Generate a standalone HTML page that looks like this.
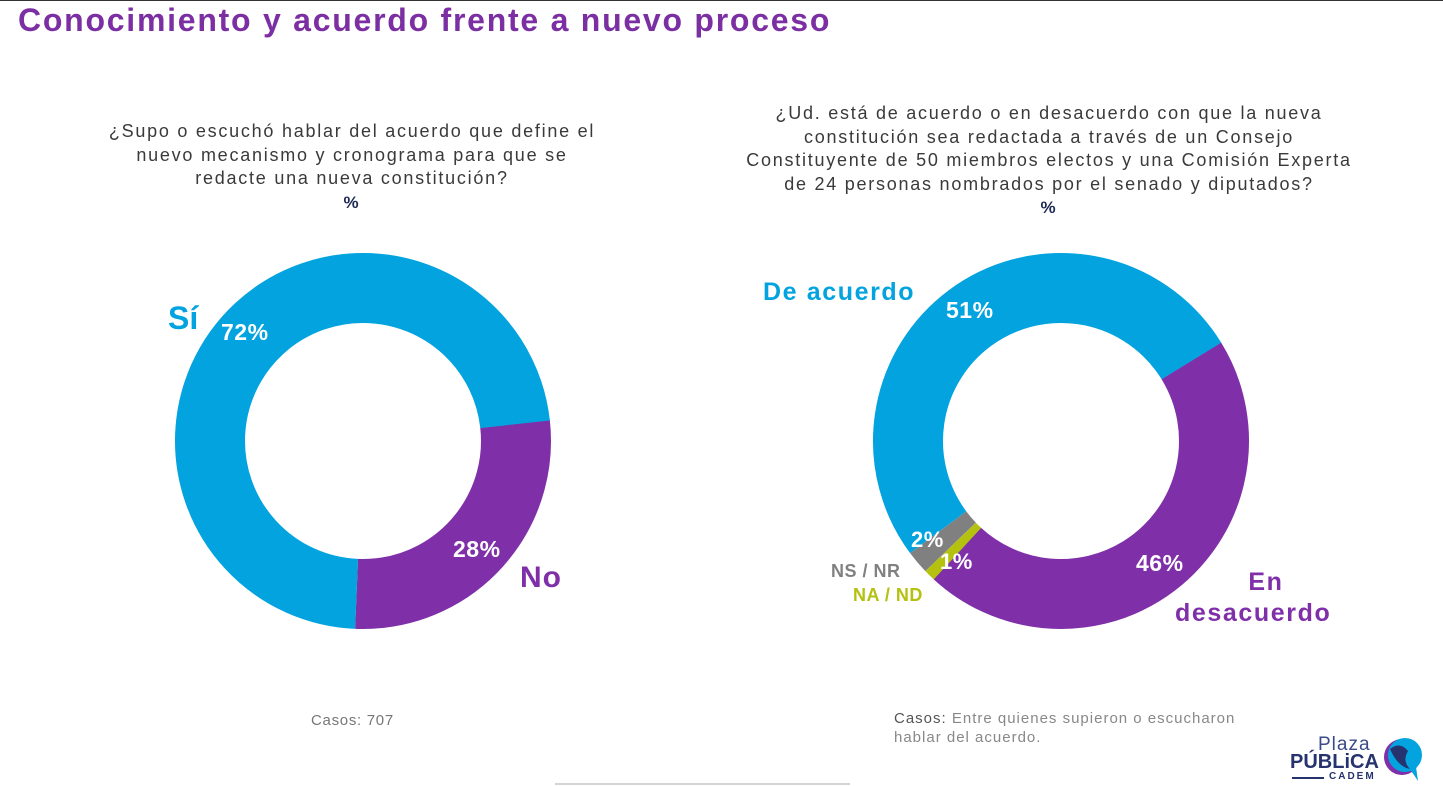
<!DOCTYPE html>
<html><head><meta charset="utf-8"><style>
body{margin:0;width:1443px;height:786px;background:#fff;position:relative;overflow:hidden;font-family:"Liberation Sans",sans-serif}
.t{position:absolute;white-space:nowrap}
.q{color:#3a3a3a;font-size:18px;text-align:center;line-height:23.5px;letter-spacing:1.75px}
.p{font-weight:bold;color:#fff;font-size:23px;letter-spacing:0.5px}
</style></head><body>
<div style="position:absolute;left:0;top:0;width:1443px;height:1px;background:#333"></div>
<div class="t" style="left:18px;top:2px;font-size:32px;font-weight:bold;color:#7b2fa3;letter-spacing:1.75px">Conocimiento y acuerdo frente a nuevo proceso</div>
<div class="t q" style="left:352px;top:120px;transform:translateX(-50%)">¿Supo o escuchó hablar del acuerdo que define el<br>nuevo mecanismo y cronograma para que se<br>redacte una nueva constitución?<br><b style="color:#1f2a55;font-size:17px">%</b></div>
<div class="t q" style="left:1049px;top:102px;transform:translateX(-50%)">¿Ud. está de acuerdo o en desacuerdo con que la nueva<br>constitución sea redactada a través de un Consejo<br>Constituyente de 50 miembros electos y una Comisión Experta<br>de 24 personas nombrados por el senado y diputados?<br><b style="color:#1f2a55;font-size:17px">%</b></div>
<svg style="position:absolute;left:0;top:0" width="1443" height="786">
<g transform="translate(363,441)" fill="none" stroke-width="70">
<circle r="153" stroke="#7f2fa8" stroke-dasharray="263.8 1000" transform="rotate(-6.4)"/>
<circle r="153" stroke="#02a3df" stroke-dasharray="697.5 1000" transform="rotate(92.4)"/>
</g>
<g transform="translate(1061,441)" fill="none" stroke-width="70">
<circle r="153" stroke="#7f2fa8" stroke-dasharray="438.5 1000" transform="rotate(-31.6)"/>
<circle r="153" stroke="#02a3df" stroke-dasharray="494 1000" transform="rotate(143.4)"/>
<circle r="153" stroke="#b4c10f" stroke-dasharray="9.6 1000" transform="rotate(132.6)"/>
<circle r="153" stroke="#808080" stroke-dasharray="19.2 1000" transform="rotate(136.2)"/>
</g>
<line x1="555" y1="784" x2="850" y2="784" stroke="#aaa" stroke-width="1"/>
</svg>
<div class="t" style="left:168px;top:300px;font-size:32px;font-weight:bold;color:#02a3df">Sí</div>
<div class="t p" style="left:221px;top:319px">72%</div>
<div class="t p" style="left:453px;top:536px">28%</div>
<div class="t" style="left:520px;top:561px;font-size:30px;font-weight:bold;color:#7f2fa8;letter-spacing:1px">No</div>
<div class="t" style="left:763px;top:278px;font-size:25px;font-weight:bold;color:#02a3df;letter-spacing:1.6px">De acuerdo</div>
<div class="t p" style="left:946px;top:297px">51%</div>
<div class="t p" style="left:1136px;top:550px">46%</div>
<div class="t" style="left:1175px;top:567px;font-size:25px;font-weight:bold;color:#7f2fa8;text-align:center;line-height:31px;letter-spacing:1.6px">&nbsp;&nbsp;&nbsp;En<br>desacuerdo</div>
<div class="t p" style="left:911px;top:527px;font-size:22px">2%</div>
<div class="t p" style="left:940px;top:549px;font-size:22px">1%</div>
<div class="t" style="left:831px;top:561px;font-size:18px;font-weight:bold;color:#808080;letter-spacing:0.5px">NS / NR</div>
<div class="t" style="left:853px;top:585px;font-size:18px;font-weight:bold;color:#b4c10f;letter-spacing:0.5px">NA / ND</div>
<div class="t" style="left:311px;top:712px;font-size:15px;color:#777;letter-spacing:0.7px">Casos: 707</div>
<div class="t" style="left:894px;top:709px;font-size:15px;color:#888;line-height:19px;letter-spacing:1px"><span style="color:#555">Casos:</span> Entre quienes supieron o escucharon<br>hablar del acuerdo.</div>
<div class="t" style="left:1318px;top:734px;font-size:19px;color:#3b4a8a;letter-spacing:1px">Plaza</div>
<div class="t" style="left:1290px;top:751px;font-size:20px;font-weight:bold;color:#26336e">PÚBLiCA</div>
<div class="t" style="left:1329px;top:771px;font-size:10px;font-weight:bold;color:#26336e;letter-spacing:2px">CADEM</div>
<div style="position:absolute;left:1292px;top:777px;width:32px;height:2px;background:#26336e"></div>
<svg style="position:absolute;left:1380px;top:735px" width="48" height="48">
<circle cx="22" cy="22" r="18" fill="#7f2fa8"/>
<circle cx="25" cy="20" r="17" fill="#02a3df"/>
<path d="M10 14 Q20 6 28 16 Q22 26 30 34 Q18 32 10 14Z" fill="#26336e"/>
<path d="M30 34 L38 46 L36 32Z" fill="#02a3df"/>
</svg>
</body></html>
